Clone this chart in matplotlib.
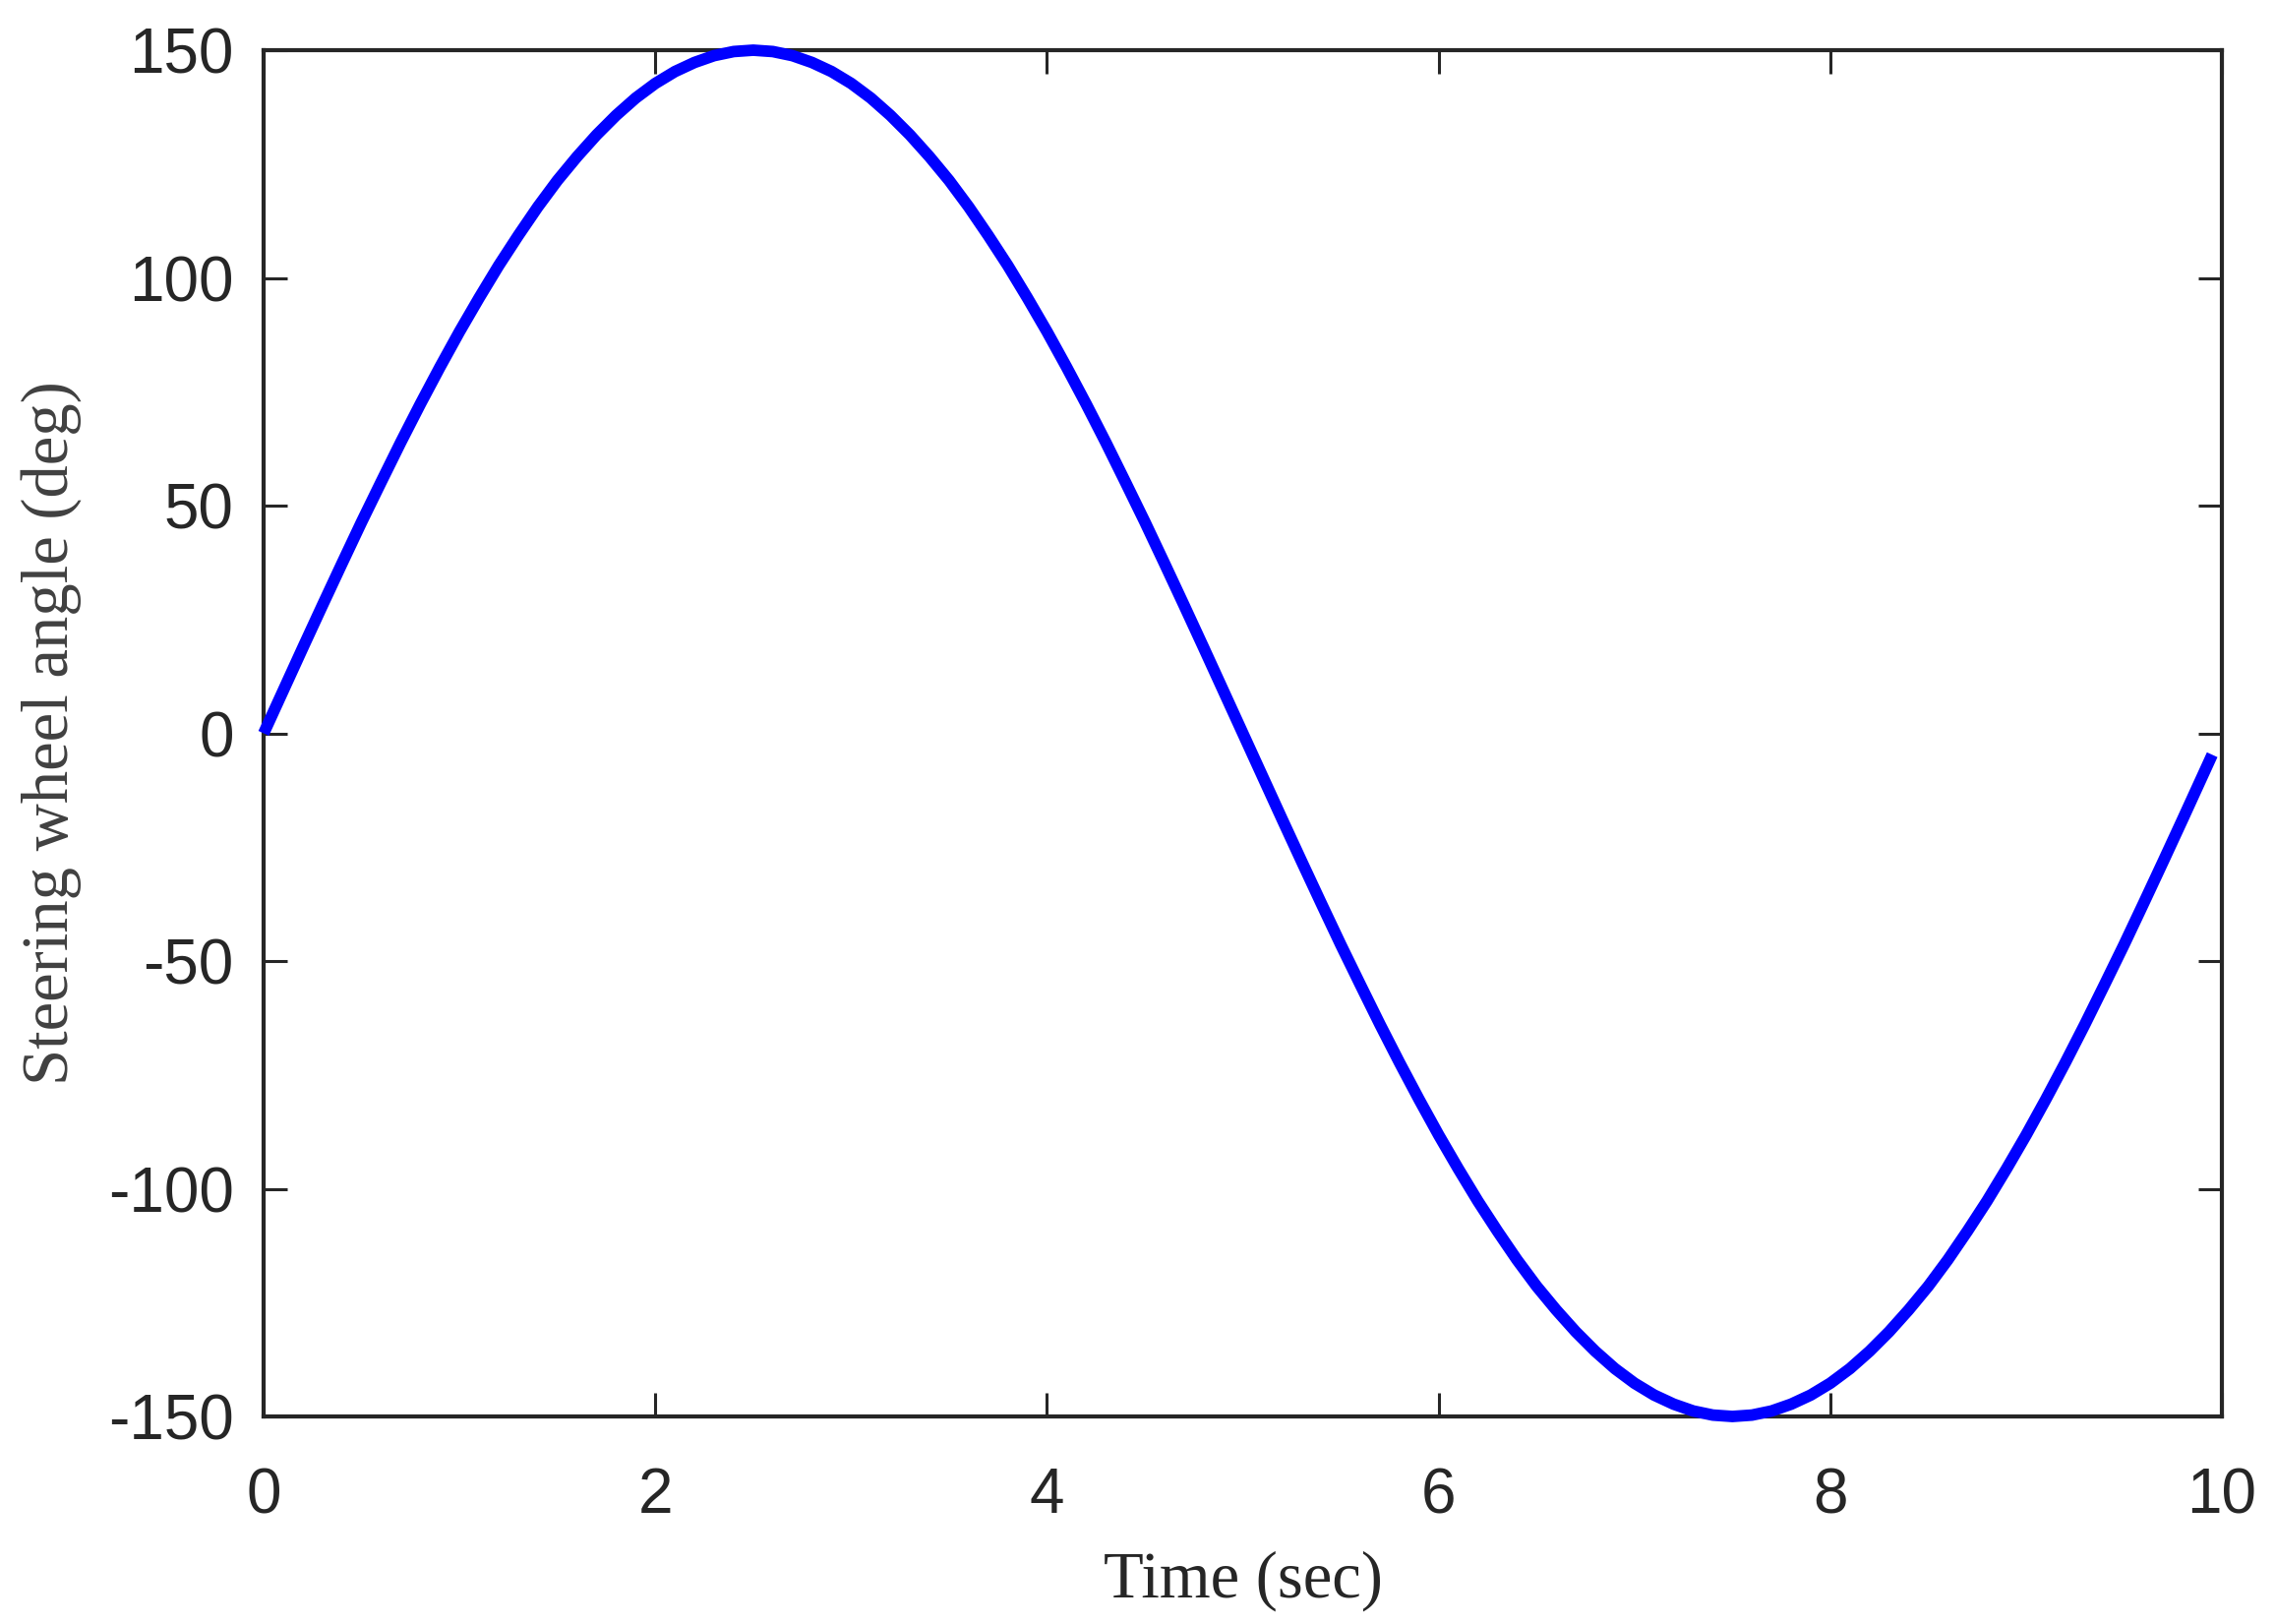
import matplotlib
matplotlib.use('Agg')
from matplotlib import pyplot as plt

plt.rcParams['axes.unicode_minus'] = False

# steering wheel angle, every 0.1 s (last sample at 9.95 s)
time_s = [0.0, 0.1, 0.2, 0.3, 0.4, 0.5, 0.6, 0.7, 0.8, 0.9,
          1.0, 1.1, 1.2, 1.3, 1.4, 1.5, 1.6, 1.7, 1.8, 1.9,
          2.0, 2.1, 2.2, 2.3, 2.4, 2.5, 2.6, 2.7, 2.8, 2.9,
          3.0, 3.1, 3.2, 3.3, 3.4, 3.5, 3.6, 3.7, 3.8, 3.9,
          4.0, 4.1, 4.2, 4.3, 4.4, 4.5, 4.6, 4.7, 4.8, 4.9,
          5.0, 5.1, 5.2, 5.3, 5.4, 5.5, 5.6, 5.7, 5.8, 5.9,
          6.0, 6.1, 6.2, 6.3, 6.4, 6.5, 6.6, 6.7, 6.8, 6.9,
          7.0, 7.1, 7.2, 7.3, 7.4, 7.5, 7.6, 7.7, 7.8, 7.9,
          8.0, 8.1, 8.2, 8.3, 8.4, 8.5, 8.6, 8.7, 8.8, 8.9,
          9.0, 9.1, 9.2, 9.3, 9.4, 9.5, 9.6, 9.7, 9.8, 9.9, 9.95]
angle_deg = [0.0, 9.4, 18.8, 28.1, 37.3, 46.4, 55.2, 63.9, 72.3, 80.4,
             88.2, 95.6, 102.7, 109.3, 115.6, 121.4, 126.6, 131.4, 135.7, 139.5,
             142.7, 145.3, 147.3, 148.8, 149.7, 150.0, 149.7, 148.8, 147.3, 145.3,
             142.7, 139.5, 135.7, 131.4, 126.6, 121.4, 115.6, 109.3, 102.7, 95.6,
             88.2, 80.4, 72.3, 63.9, 55.2, 46.4, 37.3, 28.1, 18.8, 9.4,
             0.0, -9.4, -18.8, -28.1, -37.3, -46.4, -55.2, -63.9, -72.3, -80.4,
             -88.2, -95.6, -102.7, -109.3, -115.6, -121.4, -126.6, -131.4, -135.7, -139.5,
             -142.7, -145.3, -147.3, -148.8, -149.7, -150.0, -149.7, -148.8, -147.3, -145.3,
             -142.7, -139.5, -135.7, -131.4, -126.6, -121.4, -115.6, -109.3, -102.7, -95.6,
             -88.2, -80.4, -72.3, -63.9, -55.2, -46.4, -37.3, -28.1, -18.8, -9.4, -4.7]

x_ticks = [0, 2, 4, 6, 8, 10]
y_ticks = [-150, -100, -50, 0, 50, 100, 150]

ink = '#262626'

fig = plt.figure(figsize=(23.13, 16.51), dpi=100)
ax = fig.add_axes([0.1159, 0.1278, 0.9767 - 0.1159, 0.9691 - 0.1278])

ax.plot(time_s, angle_deg, color='#0000ff', linewidth=8.5, clip_on=False,
        solid_capstyle='butt', solid_joinstyle='round', zorder=3)

ax.set_xlim(0, 10)
ax.set_ylim(-150, 150)
ax.set_xticks(x_ticks)
ax.set_yticks(y_ticks)

for sp in ax.spines.values():
    sp.set_linewidth(3.0)
    sp.set_color(ink)

ax.tick_params(axis='both', which='major', direction='in', top=True, right=True,
               length=17, width=2.2, color=ink, labelcolor=ink, labelsize=46)
ax.tick_params(axis='x', pad=37)
ax.tick_params(axis='y', pad=22)
for lab in ax.get_xticklabels() + ax.get_yticklabels():
    lab.set_family(['Liberation Sans', 'DejaVu Sans'])

ax.set_xlabel('Time (sec)', family=['Liberation Serif', 'DejaVu Serif'],
              fontsize=48, color=ink, labelpad=18)
ax.set_ylabel('Steering wheel angle (deg)', family=['Liberation Serif', 'DejaVu Serif'],
              fontsize=48, color='#404040', labelpad=19)

fig.savefig('out.png', dpi=100)
